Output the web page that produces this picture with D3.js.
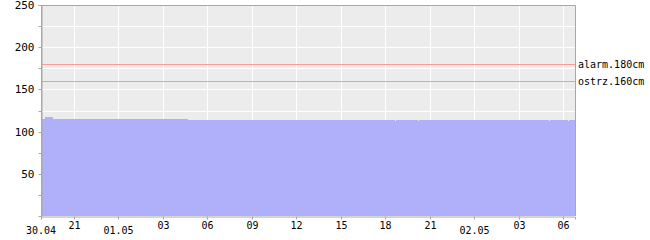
<!DOCTYPE html>
<html>
<head>
<meta charset="utf-8">
<script src="https://cdn.jsdelivr.net/npm/d3@7"></script>
<style>
  body { margin: 0; background: #fff; }
  text { font-family: "DejaVu Sans Mono", monospace; font-size: 10px; fill: #000; }
</style>
</head>
<body>
<div id="chart"></div>
<script>
var svgWidth = 650;
var svgHeight = 240;

var margin = { top: 5, right: 75, bottom: 24, left: 41 };
var width = svgWidth - margin.left - margin.right;
var height = svgHeight - margin.top - margin.bottom;

// water level readings (time, cm)
var levelTimes = ["2012-04-30T18:48", "2012-04-30T19:04", "2012-04-30T19:37", "2012-05-01T04:42",
  "2012-05-01T18:40", "2012-05-01T18:45", "2012-05-01T20:12", "2012-05-01T20:17",
  "2012-05-02T05:03", "2012-05-02T05:08", "2012-05-02T06:20", "2012-05-02T06:25", "2012-05-02T06:48"];
var levelValues = [115, 117, 115, 114, 113, 114, 113, 114, 113, 114, 113, 114, 114];

// threshold lines
var thresholdNames = ["alarm.180cm", "ostrz.160cm"];
var thresholdValues = [180, 160];
var thresholdColors = ["#ff9a9a", "#f0b428"];

var yTicks = [50, 100, 150, 200, 250];
var startLabel = "30.04";

var parseTime = d3.timeParse("%Y-%m-%dT%H:%M");
var data = levelTimes.map(function(t, i) {
  return { date: parseTime(t), value: levelValues[i] };
});

var svg = d3.select("#chart")
  .append("svg")
  .attr("width", svgWidth)
  .attr("height", svgHeight);

var chartGroup = svg.append("g")
  .attr("transform", `translate(${margin.left}, ${margin.top})`);

var xScale = d3.scaleTime()
  .domain(d3.extent(data, d => d.date))
  .range([0, width]);

var yScale = d3.scaleLinear()
  .domain([0, 250])
  .range([height, 0]);

// background
chartGroup.append("rect")
  .attr("width", width)
  .attr("height", height)
  .attr("fill", "#ececec");

// grid lines
var hourTicks = xScale.ticks(d3.timeHour.every(3));
var yGrid = d3.range(25, 250, 25);

chartGroup.append("g")
  .selectAll("line")
  .data(hourTicks)
  .enter()
  .append("line")
  .attr("x1", d => Math.round(xScale(d)) + 0.5)
  .attr("x2", d => Math.round(xScale(d)) + 0.5)
  .attr("y1", 0)
  .attr("y2", height)
  .attr("stroke", "#fff");

chartGroup.append("g")
  .selectAll("line")
  .data(yGrid)
  .enter()
  .append("line")
  .attr("x1", 0)
  .attr("x2", width)
  .attr("y1", d => Math.round(yScale(d)) + 0.5)
  .attr("y2", d => Math.round(yScale(d)) + 0.5)
  .attr("stroke", "#fff");

// area
var area = d3.area()
  .x(d => xScale(d.date))
  .y0(height)
  .y1(d => yScale(d.value))
  .curve(d3.curveStepAfter);

chartGroup.append("path")
  .datum(data)
  .attr("d", area)
  .attr("fill", "#afaffa")
  .attr("shape-rendering", "crispEdges");

// thresholds
thresholdValues.forEach(function(v, i) {
  var y = Math.round(yScale(v)) + 0.5;
  chartGroup.append("line")
    .attr("x1", 0)
    .attr("x2", width)
    .attr("y1", y)
    .attr("y2", y)
    .attr("stroke", thresholdColors[i]);
  chartGroup.append("text")
    .attr("x", width + 3)
    .attr("y", y)
    .attr("dy", "0.35em")
    .text(thresholdNames[i]);
});

// frame
chartGroup.append("path")
  .attr("d", `M0.5,${height}V0.5H${width + 0.5}V${height}`)
  .attr("fill", "none")
  .attr("stroke", "#a8a8a8");

// axes
var leftAxis = d3.axisLeft(yScale)
  .tickValues(d3.range(25, 251, 25))
  .tickSize(3)
  .tickFormat(d => yTicks.indexOf(d) >= 0 ? d : "");

var yAxisG = chartGroup.append("g")
  .attr("transform", "translate(0.5,0)")
  .call(leftAxis);
yAxisG.select(".domain").attr("stroke", "#a8a8a8");
yAxisG.selectAll(".tick line").attr("stroke", "#a8a8a8");
yAxisG.selectAll(".tick").attr("transform", d => `translate(0,${Math.round(yScale(d)) + 0.5})`);
yAxisG.selectAll(".tick text").attr("x", -7).style("font-size", "11px");

var bottomAxis = d3.axisBottom(xScale)
  .tickValues(hourTicks)
  .tickSize(3)
  .tickFormat(d => d.getHours() === 0 ? d3.timeFormat("%d.%m")(d) : d3.timeFormat("%H")(d));

var xAxisG = chartGroup.append("g")
  .attr("transform", `translate(0,${height + 0.5})`)
  .call(bottomAxis);
xAxisG.select(".domain").attr("stroke", "#a8a8a8");
xAxisG.selectAll(".tick").attr("transform", d => `translate(${Math.round(xScale(d)) + 0.5},0)`);
xAxisG.selectAll(".tick line").attr("stroke", "#a8a8a8");
xAxisG.selectAll(".tick text")
  .attr("y", d => d.getHours() === 0 ? 10 : 5);

xAxisG.append("text")
  .attr("x", 0)
  .attr("y", 10)
  .attr("dy", "0.71em")
  .attr("text-anchor", "middle")
  .text(startLabel);
</script>
</body>
</html>
